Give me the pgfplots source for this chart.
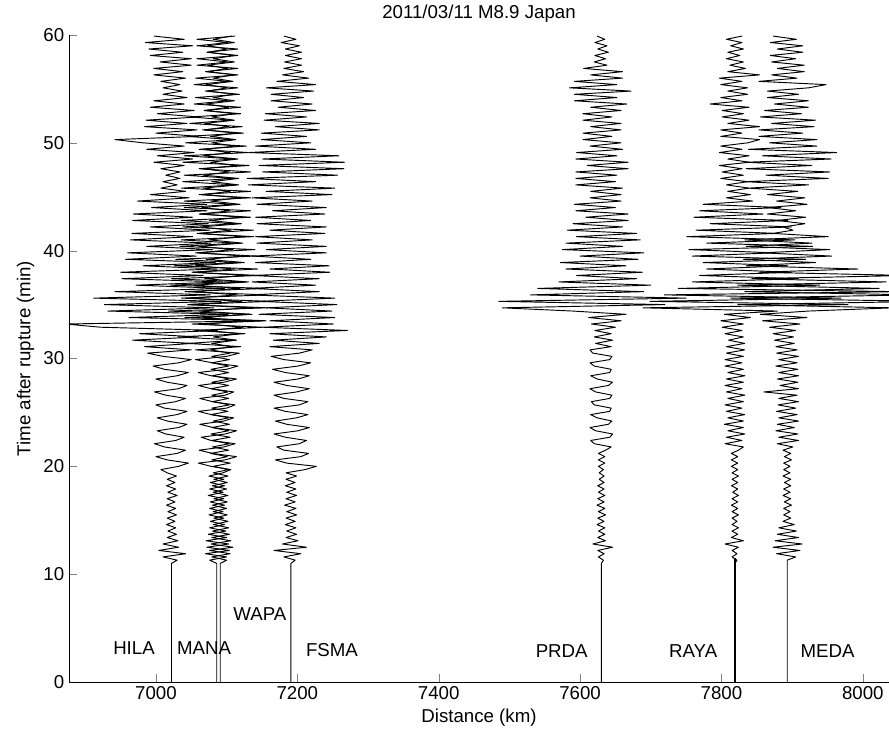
\documentclass[border=0pt]{standalone}
\usepackage{fontspec}
\setmainfont{Liberation Sans}
\usepackage{pgfplots}
\usepackage{pgfplotstable}
\pgfplotsset{compat=1.18}

% offsets in km from each station's distance; t in min
% h=HILA m=MANA w=WAPA f=FSMA p=PRDA r=RAYA e=MEDA
\pgfplotstableread{
t h m w f p r e
0 0 0 0 0 0 0 0
11.0 0 0 0 0 0 0 0
11.3 8 -10 9 6 3 3 0
11.6 -12 14 -12 -10 -4 -4 12
11.9 20 -16 14 14 4 3 -15
12.2 -18 18 -15 -24 -5 -4 18
12.5 10 -14 18 22 16 5 -20
12.8 -12 17 -13 -12 -12 -14 21
13.1 9 -15 15 10 6 12 -17
13.4 -6 14 -12 -7 -5 -5 16
13.7 7 -12 13 8 5 4 -14
14.0 -5 13 -11 -6 -4 -4 13
14.3 6 -10 12 7 5 5 -12
14.6 -7 11 -10 -8 -6 -4 10
14.9 5 -9 11 6 4 3 -6
15.2 -6 10 -9 -7 -5 -4 5
15.5 7 -11 10 8 6 5 -5
15.8 -5 9 -10 -6 -4 -4 4
16.1 6 -10 9 7 5 4 -5
16.4 -7 11 -11 -9 -6 -5 6
16.7 5 -9 10 6 4 4 -4
17.0 -6 10 -9 -7 -5 -4 5
17.3 8 -12 11 8 5 5 -6
17.6 -5 9 -10 -6 -4 -3 4
17.9 6 -10 9 7 4 4 -5
18.2 -7 11 -11 -8 -5 -5 5
18.5 5 -9 10 6 4 4 -4
18.8 -6 10 -9 -7 -3 -4 5
19.1 7 -11 11 8 4 5 -6
19.4 -6 9 -10 -7 -3 -4 4
19.7 -15 20 12 20 3 4 -5
20.0 10 -8 -10 36 -4 -5 4
20.3 24 -26 14 -6 5 4 -5
20.6 -6 12 -12 -22 -4 -5 6
20.9 -22 28 10 14 5 4 -4
21.2 8 -6 -14 25 -4 -5 5
21.5 20 -25 12 -10 6 5 -6
21.8 -10 10 -11 -20 14 12 8
22.1 -24 26 13 12 -10 -14 -14
22.4 6 -8 -12 22 -15 10 16
22.7 18 -22 14 -8 12 -12 -12
23.0 -8 12 -13 -24 16 14 15
23.3 -20 28 12 10 -8 -10 -16
23.6 10 -5 -12 26 -16 12 10
23.9 22 -24 13 -6 10 -15 -14
24.2 -6 10 -10 -22 15 12 16
24.5 -20 24 12 8 -6 -10 -12
24.8 8 -8 -13 24 -15 14 14
25.1 22 -26 11 -8 12 -12 -15
25.4 -10 14 -12 -24 14 10 12
25.7 -22 26 13 12 -10 -14 -13
26.0 6 -6 -11 24 -14 12 16
26.3 20 -24 12 -10 12 -10 -12
26.6 -8 12 -12 -24 15 14 14
26.9 -24 24 11 8 -8 -12 -33
27.2 10 -8 -13 26 -16 10 16
27.5 22 -26 12 -6 10 -14 -10
27.8 -6 10 -12 -24 16 12 15
28.1 -22 28 13 10 -6 -12 -14
28.4 8 -8 -11 26 -15 14 16
28.7 24 -26 12 -8 12 -10 -12
29.0 -10 14 -13 -26 14 12 15
29.3 -26 30 12 10 -10 -14 -16
29.6 10 -6 -12 28 -16 10 14
29.9 28 -30 13 -10 12 -14 -12
30.2 -12 14 -12 -28 15 12 16
30.5 -34 32 14 12 -12 -12 -15
30.8 28 -30 -14 30 -16 14 14
31.1 -38 34 16 -30 14 -12 -16
31.4 30 -40 -12 40 -8 14 10
31.7 -55 28 22 -25 16 -9 -18
32.0 38 -55 -10 50 -10 12 9
32.3 -45 40 28 -30 14 -14 -20
32.6 65 -30 -18 80 -9 10 12
32.9 -100 65 32 -40 20 -18 -25
33.2 -150 -35 -20 60 -14 12 18
33.5 130 70 38 -30 28 -20 -35
33.8 -60 -45 -25 62 -18 22 28
34.1 80 50 42 -45 35 -15 -38
34.4 -90 -68 -30 58 -40 60 30
34.7 60 72 44 -35 -140 -130 150
35.0 -95 -40 -46 65 90 160 -70
35.3 70 75 30 -45 -145 -120 200
35.6 -110 -50 -44 62 120 150 -80
35.9 55 70 25 -58 -100 -100 180
36.2 -80 -45 -40 40 60 230 -60
36.5 75 68 28 -56 -90 -80 130
36.8 -50 -65 -38 35 70 120 -70
37.1 72 40 40 -55 -60 -60 140
37.4 -70 -64 -22 40 50 90 -50
37.7 45 60 36 -54 -35 -50 170
38.0 -72 -35 -38 55 58 80 -40
38.3 65 58 20 -30 -50 -40 100
38.6 -40 -60 -35 54 35 75 -58
38.9 62 30 34 -50 -58 -45 40
39.2 -65 -58 -20 28 52 100 -62
39.5 35 55 34 -55 -30 -60 63
39.8 -62 -30 -32 50 60 55 -35
40.1 58 54 18 -35 -55 -65 60
40.4 -35 -52 -30 50 30 110 -58
40.7 56 28 32 -48 -50 -40 35
41.0 -58 -50 -16 30 55 85 -60
41.3 30 52 32 -50 -35 -68 58
41.6 -56 -28 -30 48 50 60 -20
41.9 54 52 15 -30 -48 -55 8
42.2 -30 -48 -28 50 30 80 -6
42.5 52 26 30 -48 -40 -35 25
42.8 -55 -50 -15 28 38 75 -14
43.1 30 48 30 -50 -22 -58 26
43.4 -54 -25 -28 48 38 40 -28
43.7 50 48 14 -26 -36 -50 12
44.0 -28 -46 -26 50 20 65 -27
44.3 50 25 28 -48 -38 -45 28
44.6 -48 -46 -14 30 28 25 -15
44.9 25 48 28 -55 -16 -12 25
45.2 -30 -25 -25 58 28 22 -28
45.5 20 48 14 -35 -15 -10 15
45.8 -15 -50 -24 62 30 20 -55
46.1 8 26 26 -60 -36 -12 30
46.4 -12 -48 -12 35 20 18 -60
46.7 12 25 26 -62 -36 -20 58
47.0 -8 -46 -24 66 22 12 -30
47.3 12 48 13 -40 -36 -18 60
47.6 -15 -25 -26 75 38 10 -58
47.9 18 46 24 -45 -20 -22 35
48.2 -25 -48 -14 76 38 20 -58
48.5 30 26 25 -40 -36 -10 62
48.8 -20 -46 -24 68 22 20 -35
49.1 32 44 14 -60 -35 -22 70
49.4 -35 -25 -24 35 30 10 -55
49.7 18 42 22 -50 -16 -20 42
50.0 -40 -44 -12 28 28 18 -25
50.3 -80 22 22 -42 -26 35 42
50.6 38 -42 -14 22 15 -20 -40
50.9 -22 38 22 -42 -26 10 22
51.2 36 -20 -22 40 28 -20 -40
51.5 -38 36 12 -22 -15 35 38
51.8 22 -38 -22 40 28 -10 -22
52.1 -36 20 20 -38 -26 20 40
52.4 38 -36 -12 22 15 -18 -38
52.7 -20 34 20 -36 -26 12 20
53.0 32 -18 -22 35 28 -18 -32
53.3 -30 34 12 -18 -15 20 30
53.6 18 -32 -20 30 36 -35 -18
53.9 -25 16 20 -28 -38 10 30
54.2 22 -30 -10 18 22 -20 -28
54.5 -12 32 20 -28 -38 18 16
54.8 15 -16 -18 32 42 -10 -28
55.1 -12 30 10 -35 -45 18 30
55.4 12 -32 -20 35 22 -20 55
55.7 -15 16 18 -20 -38 10 -40
56.0 20 -30 -10 25 30 -22 14
56.3 -25 30 20 -12 -15 35 -22
56.6 16 -16 -18 18 30 -10 24
56.9 -25 30 10 -10 -25 15 -14
57.2 28 -28 -18 15 8 -7 24
57.5 -16 16 20 -9 -10 12 -22
57.8 28 -28 -10 15 6 -12 12
58.1 -30 30 20 -8 -9 7 -24
58.4 16 -14 -18 15 10 -10 22
58.7 -32 30 10 -8 -5 12 -14
59.0 30 -28 -18 12 8 -6 22
59.3 -37 16 20 -14 -9 10 -24
59.6 18 -28 -10 7 5 -12 13
59.9 -25 26 16 -10 -6 10 -20
}\traces

\begin{document}
\begin{tikzpicture}
\begin{axis}[
  scale only axis,
  width=615pt, height=485.25pt,
  xmin=6877, xmax=8037, ymin=0, ymax=60,
  axis lines=left,
  axis line style={-, line width=0.5pt},
  tick align=inside,
  major tick length=6pt,
  xtick={7000,7200,...,8000},
  ytick={0,10,...,60},
  /pgf/number format/1000 sep={},
  /pgf/number format/assume math mode=true,
  tick label style={font=\fontsize{14}{16}\selectfont},
  label style={font=\fontsize{14}{16}\selectfont},
  title style={font=\fontsize{14}{16}\selectfont},
  title={2011/03/11 M8.9 Japan},
  xlabel={Distance (km)},
  ylabel={Time after rupture (min)},
  every axis plot/.append style={line join=round},
]
\addplot[black, line width=0.7pt] table[x expr=\thisrow{h}+7022, y=t] {\traces};
\addplot[black, line width=0.7pt] table[x expr=\thisrow{m}+7086, y=t] {\traces};
\addplot[black, line width=0.7pt] table[x expr=\thisrow{w}+7091, y=t] {\traces};
\addplot[black, line width=0.7pt] table[x expr=\thisrow{f}+7191, y=t] {\traces};
\addplot[black, line width=0.7pt] table[x expr=\thisrow{p}+7630, y=t] {\traces};
\addplot[black, line width=0.7pt] table[x expr=\thisrow{r}+7819, y=t] {\traces};
\addplot[black, line width=0.7pt] table[x expr=\thisrow{e}+7893, y=t] {\traces};
\addplot[black, line width=1pt] coordinates {(7819,0) (7819,11.5)};

\node[font=\fontsize{14}{16}\selectfont] at (axis cs:6969,3.15) {HILA};
\node[font=\fontsize{14}{16}\selectfont] at (axis cs:7068,3.15) {MANA};
\node[font=\fontsize{14}{16}\selectfont] at (axis cs:7147,6.3) {WAPA};
\node[font=\fontsize{14}{16}\selectfont] at (axis cs:7249,2.97) {FSMA};
\node[font=\fontsize{14}{16}\selectfont] at (axis cs:7574,2.9) {PRDA};
\node[font=\fontsize{14}{16}\selectfont] at (axis cs:7760,2.9) {RAYA};
\node[font=\fontsize{14}{16}\selectfont] at (axis cs:7950,2.9) {MEDA};

\coordinate (bbl) at (rel axis cs:-0.0841,-0.0866);
\coordinate (btr) at (rel axis cs:1,1.0541);
\end{axis}
\pgfresetboundingbox
\path[use as bounding box] (bbl) rectangle (btr);
\end{tikzpicture}
\end{document}
